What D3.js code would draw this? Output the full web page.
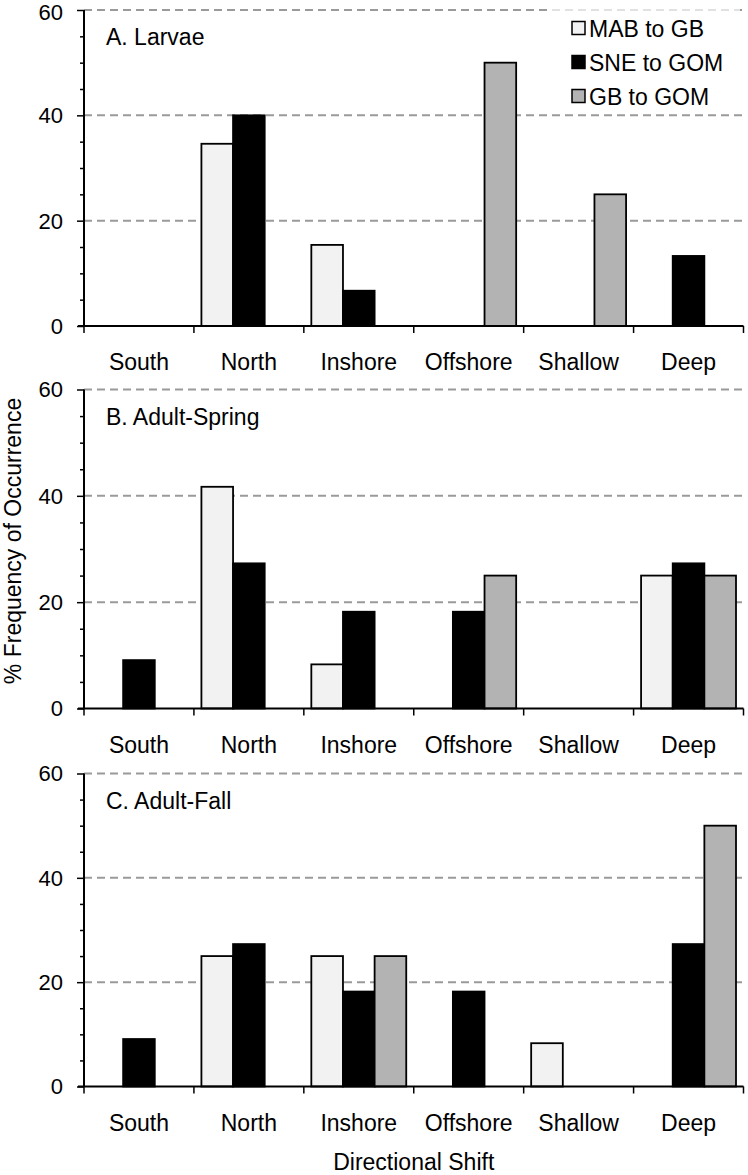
<!DOCTYPE html>
<html>
<head>
<meta charset="utf-8">
<script src="https://cdn.jsdelivr.net/npm/d3@7"></script>
<style>
  html, body { margin: 0; padding: 0; background: #fff; }
  svg { display: block; font-family: "Liberation Sans", Arial, sans-serif; }
</style>
</head>
<body>
<svg id="chart" width="748" height="1175"></svg>
<script>
// ---- data ----
const categories = ["South", "North", "Inshore", "Offshore", "Shallow", "Deep"];
const seriesNames = ["MAB to GB", "SNE to GOM", "GB to GOM"];
const seriesColors = ["#f2f2f2", "#000000", "#b3b3b3"];
const yTicks = [0, 20, 40, 60];
const panelTitles = ["A. Larvae", "B. Adult-Spring", "C. Adult-Fall"];

const larvaeMAB = [0, 34.6, 15.4, 0, 0, 0];
const larvaeSNE = [0, 40, 6.7, 0, 0, 13.3];
const larvaeGB  = [0, 0, 0, 50, 25, 0];

const springMAB = [0, 41.7, 8.3, 0, 0, 25];
const springSNE = [9.1, 27.3, 18.2, 18.2, 0, 27.3];
const springGB  = [0, 0, 0, 25, 0, 25];

const fallMAB = [0, 25, 25, 0, 8.3, 0];
const fallSNE = [9.1, 27.3, 18.2, 18.2, 0, 27.3];
const fallGB  = [0, 0, 25, 0, 0, 50];

const panels = [
  { title: panelTitles[0], values: [larvaeMAB, larvaeSNE, larvaeGB], top: 10, bottom: 326, legend: true },
  { title: panelTitles[1], values: [springMAB, springSNE, springGB], top: 389.5, bottom: 708.5 },
  { title: panelTitles[2], values: [fallMAB, fallSNE, fallGB], top: 773.5, bottom: 1086.5 }
];

// ---- layout ----
const svg = d3.select("#chart");
const left = 84, right = 743.5;

const x0 = d3.scaleBand().domain(categories).range([left, right]).paddingInner(0).paddingOuter(0);
const bw = x0.bandwidth();
const x1 = d3.scaleBand().domain(seriesNames).range([7.5, bw - 7.5]).padding(0);

panels.forEach((p, pi) => {
  const y = d3.scaleLinear().domain([0, 60]).range([p.bottom, p.top]);
  const g = svg.append("g");

  // gridlines
  g.selectAll("line.grid").data(yTicks.filter(t => t > 0)).enter().append("line")
    .attr("x1", left).attr("x2", right)
    .attr("y1", d => y(d)).attr("y2", d => y(d))
    .attr("stroke", "#9a9a9a").attr("stroke-width", 2)
    .attr("stroke-dasharray", "8,5");

  // legend background (softens gridline behind legend)
  if (p.legend) {
    g.append("rect").attr("x", 552).attr("y", 4).attr("width", 188).attr("height", 108)
      .attr("fill", "#fff").attr("opacity", 0.7);
  }

  // bars
  const rows = [];
  categories.forEach((c, ci) => {
    seriesNames.forEach((s, si) => {
      const v = p.values[si][ci];
      if (v > 0) rows.push({ c, s, si, v });
    });
  });
  g.selectAll("rect.bar").data(rows).enter().append("rect")
    .attr("x", d => x0(d.c) + x1(d.s))
    .attr("width", x1.bandwidth())
    .attr("y", d => y(d.v))
    .attr("height", d => y(0) - y(d.v))
    .attr("fill", d => seriesColors[d.si])
    .attr("stroke", "#000").attr("stroke-width", 1.8);

  // y axis (minor ticks every 5)
  const yAxis = d3.axisLeft(y).tickValues(d3.range(0, 61, 5))
    .tickSize(5).tickFormat(d => yTicks.includes(d) ? d : "");
  const ya = g.append("g").attr("transform", `translate(${left},0)`).call(yAxis);
  ya.select(".domain").attr("stroke", "#000").attr("stroke-width", 2).attr("d", `M0,${y(60)}V${y(0)}`);
  ya.selectAll(".tick line").attr("stroke", "#000").attr("stroke-width", 1.5)
    .attr("x2", d => yTicks.includes(d) ? -7 : -4);
  ya.selectAll(".tick text").attr("x", -21).attr("font-size", 22)
    .attr("font-family", "Liberation Sans, Arial, sans-serif").attr("fill", "#000")
    .attr("dy", d => (pi === 0 && d === 60) ? "0.42em" : "0.34em");

  // x axis
  const xa = g.append("g").attr("transform", `translate(0,${y(0)})`);
  xa.append("line").attr("x1", left - 6).attr("x2", right).attr("y1", 0).attr("y2", 0)
    .attr("stroke", "#000").attr("stroke-width", 2);
  const bounds = categories.map(c => x0(c)).concat([right]);
  xa.selectAll("line.xt").data(bounds).enter().append("line")
    .attr("x1", d => d).attr("x2", d => d).attr("y1", 0).attr("y2", 7)
    .attr("stroke", "#000").attr("stroke-width", 1.5);
  xa.selectAll("text").data(categories).enter().append("text")
    .attr("x", d => x0(d) + bw / 2).attr("y", 44)
    .attr("text-anchor", "middle").attr("font-size", 23).attr("fill", "#000")
    .text(d => d);

  // panel title
  g.append("text").attr("x", 106).attr("y", p.top + 35)
    .attr("font-size", 23).attr("fill", "#000").text(p.title);

  // legend
  if (p.legend) {
    const lg = g.append("g").attr("transform", "translate(572,0)");
    seriesNames.forEach((s, i) => {
      const cy = 28 + i * 34;
      lg.append("rect").attr("x", 0).attr("y", cy - 6.5).attr("width", 13).attr("height", 13)
        .attr("fill", seriesColors[i]).attr("stroke", "#000").attr("stroke-width", 1.5);
      lg.append("text").attr("x", 17).attr("y", cy + 8.5)
        .attr("font-size", 23).attr("fill", "#000").text(s);
    });
  }
});

// axis titles
svg.append("text").attr("transform", "translate(21,541) rotate(-90)")
  .attr("text-anchor", "middle").attr("font-size", 23).attr("fill", "#000")
  .text("% Frequency of Occurrence");
svg.append("text").attr("x", (left + right) / 2).attr("y", 1170)
  .attr("text-anchor", "middle").attr("font-size", 23).attr("fill", "#000")
  .text("Directional Shift");
</script>
</body>
</html>
